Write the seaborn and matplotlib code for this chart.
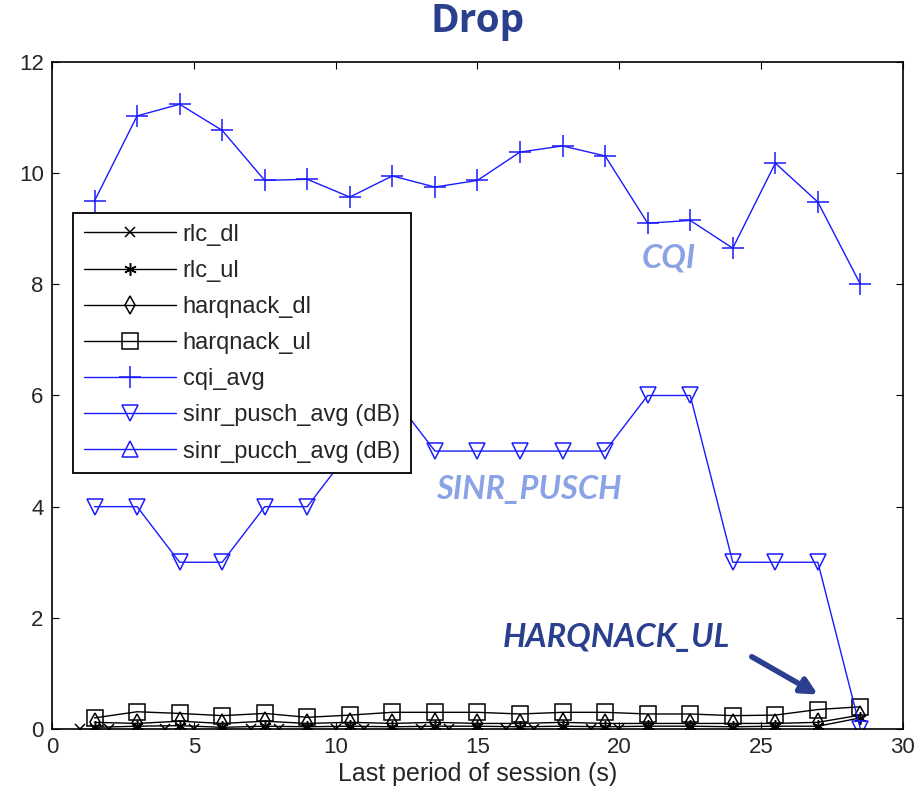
import matplotlib
matplotlib.use("Agg")
import matplotlib.pyplot as plt
import seaborn as sns
import numpy as np

# time axis (s)
t = [1.5, 3, 4.5, 6, 7.5, 9, 10.5, 12, 13.5, 15, 16.5, 18, 19.5, 21, 22.5, 24, 25.5, 27, 28.5]
t_rlc_dl = [1, 2, 4, 5, 7, 8, 10, 11, 13, 14, 16, 17, 19, 20]

rlc_dl = [0, 0, 0, 0, 0, 0, 0, 0, 0, 0, 0, 0, 0, 0]
rlc_ul = [0.03, 0.05, 0.06, 0.03, 0.05, 0.04, 0.05, 0.04, 0.05, 0.05, 0.04, 0.05, 0.04, 0.05,
          0.05, 0.04, 0.05, 0.05, 0.2]
harqnack_dl = [0.12, 0.1, 0.14, 0.1, 0.14, 0.1, 0.12, 0.1, 0.12, 0.1, 0.1, 0.12, 0.1, 0.1,
               0.1, 0.1, 0.1, 0.12, 0.25]
harqnack_ul = [0.2, 0.31, 0.28, 0.24, 0.28, 0.21, 0.25, 0.3, 0.3, 0.3, 0.27, 0.3, 0.3, 0.27,
               0.27, 0.24, 0.25, 0.35, 0.4]
cqi_avg = [9.5, 11.03, 11.24, 10.77, 9.87, 9.89, 9.57, 9.95, 9.75, 9.87, 10.38, 10.49, 10.31,
           9.1, 9.15, 8.65, 10.18, 9.48, 8.0]
sinr_pusch = [4, 4, 3, 3, 4, 4, 5, 6, 5, 5, 5, 5, 5, 6, 6, 3, 3, 3, 0]
sinr_pucch = [np.nan] * len(t)

sns.set_style("white")
plt.rcParams['font.family'] = ['Liberation Sans', 'DejaVu Sans']

fig = plt.figure(figsize=(9.23, 8.01), dpi=100)
ax = fig.add_axes([0.0563, 0.0899, 0.922, 0.8327])

blue = "#1a1aff"
common = dict(ax=ax, linewidth=1.0, markeredgewidth=1.1, estimator=None, sort=False)

sns.lineplot(x=t_rlc_dl, y=rlc_dl, color="black", marker="x", markersize=7,
             markeredgecolor="black", label="rlc_dl", **common)
sns.lineplot(x=t, y=rlc_ul, color="black", marker=(6, 2, 0), markersize=9,
             markeredgecolor="black", label="rlc_ul", **common)
sns.lineplot(x=t, y=harqnack_dl, color="black", marker="d", markersize=9,
             markerfacecolor="none", markeredgecolor="black", label="harqnack_dl", **common)
sns.lineplot(x=t, y=harqnack_ul, color="black", marker="s", markersize=12,
             markerfacecolor="none", markeredgecolor="black", label="harqnack_ul", **common)
sns.lineplot(x=t, y=cqi_avg, color=blue, marker="+", markersize=16,
             markeredgecolor=blue, label="cqi_avg", **common)
sns.lineplot(x=t, y=sinr_pusch, color=blue, marker="v", markersize=11,
             markerfacecolor="none", markeredgecolor=blue, label="sinr_pusch_avg (dB)", **common)
sns.lineplot(x=t, y=sinr_pucch, color=blue, marker="^", markersize=11,
             markerfacecolor="none", markeredgecolor=blue, label="sinr_pucch_avg (dB)", **common)

ax.set_xlim(0, 30)
ax.set_ylim(0, 12)
ax.set_xticks(range(0, 31, 5))
ax.set_yticks(range(0, 13, 2))
ax.tick_params(direction="in", length=5, labelsize=16, top=True, right=True,
               bottom=True, left=True, color="black", pad=6)
for s in ax.spines.values():
    s.set_color("black")
    s.set_linewidth(1.2)
ax.set_xlabel("Last period of session (s)", fontsize=18, labelpad=3)
ax.set_ylabel("")

fig.suptitle("Drop", x=0.517, y=0.997, fontsize=28, fontweight="bold", color="#2b3f8f",
             family=["Open Sans", "DejaVu Sans"])

leg = ax.legend(loc="upper left", bbox_to_anchor=(0.0247, 0.7736), borderaxespad=0,
                fontsize=17, frameon=True, fancybox=False, edgecolor="black", framealpha=1,
                labelspacing=0.6, handlelength=3.9, handletextpad=0.3, borderpad=0.45)
leg.get_frame().set_linewidth(1.3)

ann_font = ["Lato", "DejaVu Sans"]
ann = dict(fontsize=23.5, fontstyle="italic", fontweight="bold", family=ann_font,
           ha="center", va="center")
ax.text(21.75, 8.47, "CQI", color="#8aa3e6", **ann)
ax.text(16.8, 4.3, "SINR_PUSCH", color="#8aa3e6", **ann)
ax.text(19.9, 1.65, "HARQNACK_UL", color="#2b3f8f", **ann)
ax.annotate("", xy=(27.0, 0.62), xytext=(24.67, 1.3),
            arrowprops=dict(arrowstyle="-|>", color="#2b3f8f", lw=4, mutation_scale=24,
                            shrinkA=0, shrinkB=0))

fig.savefig("out.png", dpi=100)
plt.close(fig)
